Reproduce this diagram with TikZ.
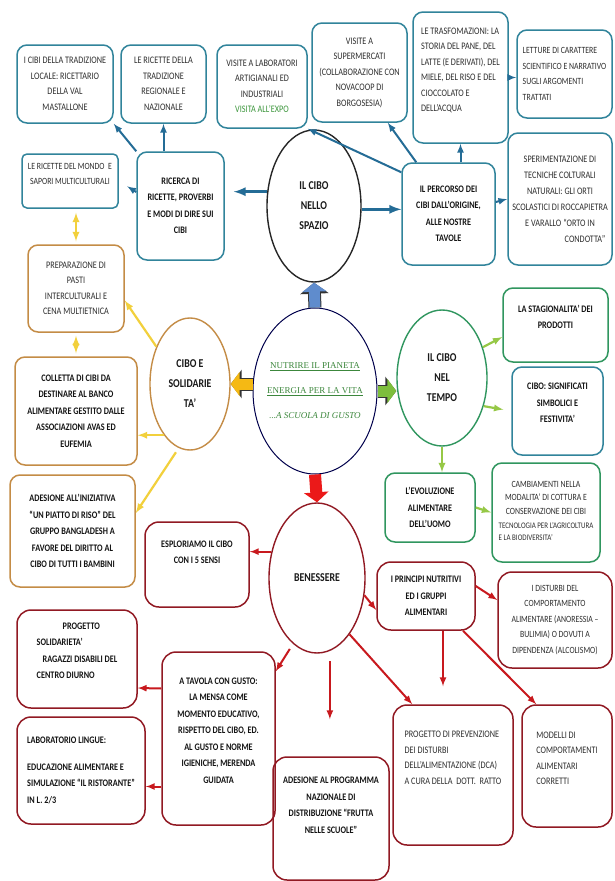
\documentclass[tikz,border=0pt]{standalone}
\usepackage{fontspec}
\setmainfont{Carlito}[FakeStretch=0.82]
\newfontfamily\mottofont{Liberation Serif}
\usepackage{tikz}
\usetikzlibrary{shapes.geometric}
\usetikzlibrary{arrows}
\usetikzlibrary{arrows.meta}
\definecolor{tealc}{RGB}{49,132,155}
\definecolor{tealarrow}{RGB}{36,108,150}
\definecolor{orangec}{RGB}{196,140,70}
\definecolor{yellowc}{RGB}{242,208,60}
\definecolor{greenc}{RGB}{48,150,95}
\definecolor{lightgreen}{RGB}{150,200,70}
\definecolor{redc}{RGB}{145,25,35}
\definecolor{redarrow}{RGB}{200,25,30}
\definecolor{expogreen}{RGB}{60,150,60}
\definecolor{mottogreen}{RGB}{60,135,60}
\definecolor{blockblue}{RGB}{95,140,205}
\definecolor{blockorange}{RGB}{245,185,20}
\definecolor{blockgreen}{RGB}{125,190,60}
\definecolor{blockred}{RGB}{235,25,25}
\newcommand{\pad}[1]{\\\rule{0pt}{#1}}

\begin{document}
\begin{tikzpicture}[x=1pt,y=-1pt,
 box/.style={rectangle,rounded corners=10pt,line width=1.5pt,align=center,inner sep=3pt,
   font=\fontsize{10}{15.5}\selectfont,text=black!82},
 tealbox/.style={box,draw=tealc},
 orangebox/.style={box,draw=orangec},
 greenbox/.style={box,draw=greenc},
 redbox/.style={box,draw=redc,rounded corners=14pt},
 strong/.style={font=\fontsize{10}{16.5}\selectfont\bfseries,text=black!92},
 wh/.style 2 args={minimum width=#1,minimum height=#2},
 spot/.style={ellipse,line width=1.4pt,align=center,inner sep=0pt,
   font=\fontsize{12}{20}\selectfont\bfseries,text=black!90},
 tealline/.style={draw=tealarrow,line width=2pt,-latex},
 yellowline/.style={draw=yellowc,line width=2.2pt,-latex},
 greenline/.style={draw=lightgreen,line width=2.2pt,-latex},
 redline/.style={draw=redarrow,line width=2pt,-latex},
 fat/.style={draw=#1,line width=11pt,-{Triangle[length=9pt,width=24pt]},
   preaction={draw=black!80,line width=13pt,-{Triangle[length=11pt,width=28pt]}}},
 fatred/.style={draw=blockred,line width=12pt,-{Triangle[length=10pt,width=24pt]}}]

 \path[use as bounding box,fill=white] (0,0) rectangle (614,881);

 \node at (65,84) [tealbox,wh={96pt}{78pt}] (1) {I CIBI DELLA TRADIZIONE\\LOCALE: RICETTARIO\\DELLA VAL\\MASTALLONE};
 \node at (163.5,84) [tealbox,wh={85pt}{78pt}] (2) {LE RICETTE DELLA\\TRADIZIONE\\REGIONALE E\\NAZIONALE};
 \node at (262,86.5) [tealbox,wh={90pt}{83pt}] (3) {VISITE A LABORATORI\\ARTIGIANALI ED\\INDUSTRIALI\\\textcolor{expogreen}{VISITA ALL'EXPO}};
 \node at (359.5,72.5) [tealbox,wh={95pt}{99pt}] (4) {VISITE A\\SUPERMERCATI\\(COLLABORAZIONE CON\\NOVACOOP DI\\BORGOSESIA)};
 \node at (460.5,77.5) [tealbox,align=left,wh={95pt}{131pt}] (5) {LE TRASFOMAZIONI: LA\\STORIA DEL PANE, DEL\\LATTE (E DERIVATI), DEL\\MIELE, DEL RISO E DEL\\CIOCCOLATO E\\DELL'ACQUA\pad{0pt}};
 \node at (564.5,74) [tealbox,align=left,font=\fontsize{9.5}{15.5}\selectfont,wh={95pt}{88pt}] (6) {LETTURE DI CARATTERE\\SCIENTIFICO E NARRATIVO\\SUGLI ARGOMENTI\\TRATTATI};
 \node at (560,199) [tealbox,font=\fontsize{10}{16}\selectfont,wh={104pt}{132pt}] (7) {SPERIMENTAZIONE DI\\TECNICHE COLTURALI\\NATURALI: GLI ORTI\\SCOLASTICI DI ROCCAPIETRA\\E VARALLO ``ORTO IN\\\hspace*{50pt}CONDOTTA''};
 \node at (70,181) [tealbox,rounded corners=5pt,font=\fontsize{9.5}{15}\selectfont,wh={96pt}{54pt}] (8) {LE RICETTE DEL MONDO~ E\\SAPORI MULTICULTURALI\pad{0pt}};
 \node at (180.5,206) [tealbox,strong,wh={87pt}{108pt}] (9) {RICERCA DI\\RICETTE, PROVERBI\\E MODI DI DIRE SUI\\CIBI};
 \node at (314,206) [spot,draw=black!85,wh={94pt}{152pt}] (10) {IL CIBO\\NELLO\\SPAZIO};
 \node at (448.5,214) [tealbox,strong,wh={93pt}{102pt}] (11) {IL PERCORSO DEI\\CIBI DALL'ORIGINE,\\ALLE NOSTRE\\TAVOLE};

 \node at (76,288.5) [orangebox,wh={96pt}{87pt}] (12) {PREPARAZIONE DI\\PASTI\\INTERCULTURALI E\\CENA MULTIETNICA};
 \node at (76,411) [orangebox,strong,wh={122pt}{108pt}] (13) {COLLETTA DI CIBI DA\\DESTINARE AL BANCO\\ALIMENTARE GESTITO DALLE\\ASSOCIAZIONI AVAS ED\\EUFEMIA};
 \node at (72.5,531) [orangebox,strong,wh={125pt}{112pt}] (14) {ADESIONE ALL'INIZIATIVA\\``UN PIATTO DI RISO'' DEL\\GRUPPO BANGLADESH A\\FAVORE DEL DIRITTO AL\\CIBO DI TUTTI I BAMBINI};
 \node at (190,384) [spot,draw=orangec,wh={80pt}{132pt}] (15) {CIBO E\\SOLIDARIE\\TA'};

 \node at (315,391) [ellipse,draw=black!70!blue,line width=1pt,inner sep=-14pt,wh={124pt}{166pt},align=center,
   font=\mottofont\fontsize{9}{25}\selectfont,text=mottogreen] (0) {\underline{NUTRIRE IL PIANETA}\\\underline{ENERGIA PER LA VITA}\\\textit{...A SCUOLA DI GUSTO}};

 \node at (442,378) [spot,draw=greenc,wh={90pt}{136pt}] (16) {IL CIBO\\NEL\\TEMPO};
 \node at (555.5,325) [greenbox,strong,wh={105pt}{74pt}] (17) {LA STAGIONALITA' DEI\\PRODOTTI\pad{15pt}};
 \node at (557.5,411) [greenbox,strong,draw=tealc,wh={91pt}{88pt}] (18) {CIBO: SIGNIFICATI\\SIMBOLICI E\\FESTIVITA'\pad{0pt}};
 \node at (430,507.5) [greenbox,strong,wh={90pt}{69pt}] (19) {L'EVOLUZIONE\\ALIMENTARE\\DELL'UOMO};
 \node at (546,512.5) [greenbox,font=\fontsize{9.5}{13.5}\selectfont,wh={108pt}{99pt}] (20) {CAMBIAMENTI NELLA\\MODALITA' DI COTTURA E\\CONSERVAZIONE DEI CIBI\\[5pt]{\fontsize{8.5}{12}\selectfont\begin{tabular}{@{}l@{}}TECNOLOGIA PER L'AGRICOLTURA\\E LA BIODIVERSITA'\end{tabular}}};

 \node at (317,578) [spot,draw=redc,wh={96pt}{150pt}] (21) {BENESSERE};
 \node at (197,564.5) [redbox,strong,wh={104pt}{85pt}] (22) {ESPLORIAMO IL CIBO\\CON I 5 SENSI\pad{24pt}};
 \node at (426,596) [redbox,strong,wh={98pt}{68pt}] (23) {I PRINCIPI NUTRITIVI\\ED I GRUPPI\\ALIMENTARI};
 \node at (555,620) [redbox,font=\fontsize{9.5}{15.5}\selectfont,wh={114pt}{96pt}] (24) {I DISTURBI DEL\\COMPORTAMENTO\\ALIMENTARE (ANORESSIA --\\BULIMIA) O DOVUTI A\\DIPENDENZA (ALCOLISMO)};
 \node at (77,659) [redbox,strong,align=left,wh={120pt}{98pt}] (25) {\hspace*{26pt}PROGETTO\\SOLIDARIETA'\\\hspace*{6pt}RAGAZZI DISABILI DEL\\CENTRO DIURNO\pad{0pt}};
 \node at (218.5,738.5) [redbox,strong,wh={113pt}{173pt}] (26) {A TAVOLA CON GUSTO:\\LA MENSA COME\\MOMENTO EDUCATIVO,\\RISPETTO DEL CIBO, ED.\\AL GUSTO E NORME\\IGIENICHE, MERENDA\\GUIDATA\pad{0pt}};
 \node at (81,770.5) [redbox,strong,align=left,wh={128pt}{107pt}] (27) {LABORATORIO LINGUE:\\[10pt]EDUCAZIONE ALIMENTARE E\\SIMULAZIONE ``IL RISTORANTE''\\IN L. 2/3};
 \node at (331,818.5) [redbox,strong,wh={116pt}{123pt}] (28) {ADESIONE AL PROGRAMMA\\NAZIONALE DI\\DISTRIBUZIONE ``FRUTTA\\NELLE SCUOLE''\pad{26pt}};
 \node at (453,775) [redbox,align=left,wh={120pt}{140pt}] (29) {PROGETTO DI PREVENZIONE\\DEI DISTURBI\\DELL'ALIMENTAZIONE (DCA)\\A CURA DELLA~ DOTT.~ RATTO\pad{33pt}};
 \node at (567,766) [redbox,align=left,wh={90pt}{122pt}] (30) {MODELLI DI\\COMPORTAMENTI\\ALIMENTARI\\CORRETTI\pad{15pt}};

 \draw[fat=blockblue] (0.north) -- (10.south);
 \draw[fat=blockorange] (0.west|-15.east) -- (15.east);
 \draw[fat=blockgreen] (0.east) -- (16.west|-0.east);
 \draw[fatred] (0.south) -- (21.north);

 \draw[tealline,line width=3pt,shorten >=9pt] (10.163) -- (9.east|-10.163);
 \draw[tealline,line width=3pt] (10.-4) -- (11.west|-10.-4);
 \draw[tealline] (9.north west) -- (1.south east); \draw[tealline] (2.south|-9.north) -- (2.south);
 \draw[tealline,shorten >=10pt] ([yshift=14pt]9.west) -- (8.east);
 \draw[tealline] ([yshift=-10pt]11.north west) -- (3.south east);
 \draw[tealline] ([xshift=15pt]11.north west) -- ([xshift=-20pt]4.south east);
 \draw[tealline] (5.south|-11.north) -- (5.south); \draw[tealline] (5.east) -- (6.west|-5.east);
 \draw[tealline] ([yshift=12pt]11.east) -- (7.west);

 \draw[yellowline,latex-latex,shorten <=4pt,shorten >=3pt] (8.south-|12.north) -- (12.north);
 \draw[yellowline,latex-latex,shorten <=3pt,shorten >=3pt] (12.south) -- (13.north);
 \draw[yellowline] (15.132) -- ([yshift=-12pt]12.east); \draw[yellowline] (15.243) -- (13.east|-15.243);
 \draw[yellowline,shorten <=5pt] (15.260) -- ([yshift=18pt]14.east);

 \draw[greenline] (16.37) -- ([yshift=-12pt]17.west); \draw[greenline,shorten >=8pt] (16.-34) -- (18.west);
 \draw[greenline] (16.south) -- (16.south|-19.north); \draw[greenline] (19.east) -- (20.west);

 \draw[redline] (21.150) -- (22.east|-21.150); \draw[redline] (21.-20) -- ([yshift=-14pt]23.west);
 \draw[redline,shorten <=6pt] (21.250) -- ([yshift=-20pt]26.north east);
 \draw[redline,shorten <=10pt,shorten >=37pt] (21.-80) -- (21.-80|-28.north);
 \draw[redline] (21.-60) -- ([xshift=20pt]29.north west);
 \draw[redline] ([yshift=10pt]23.east) -- ([yshift=20pt]24.west);
 \draw[redline,shorten >=18pt] ([xshift=17pt]23.south) -- ([xshift=-10pt]29.north);
 \draw[redline] ([xshift=37pt]23.south) -- ([xshift=15pt]30.north west);
 \draw[redline] ([yshift=50pt]26.west) -- ([yshift=-29pt]25.east);
 \draw[redline] ([yshift=-48pt]26.west) -- ([yshift=-16pt]27.east);
\end{tikzpicture}
\end{document}
